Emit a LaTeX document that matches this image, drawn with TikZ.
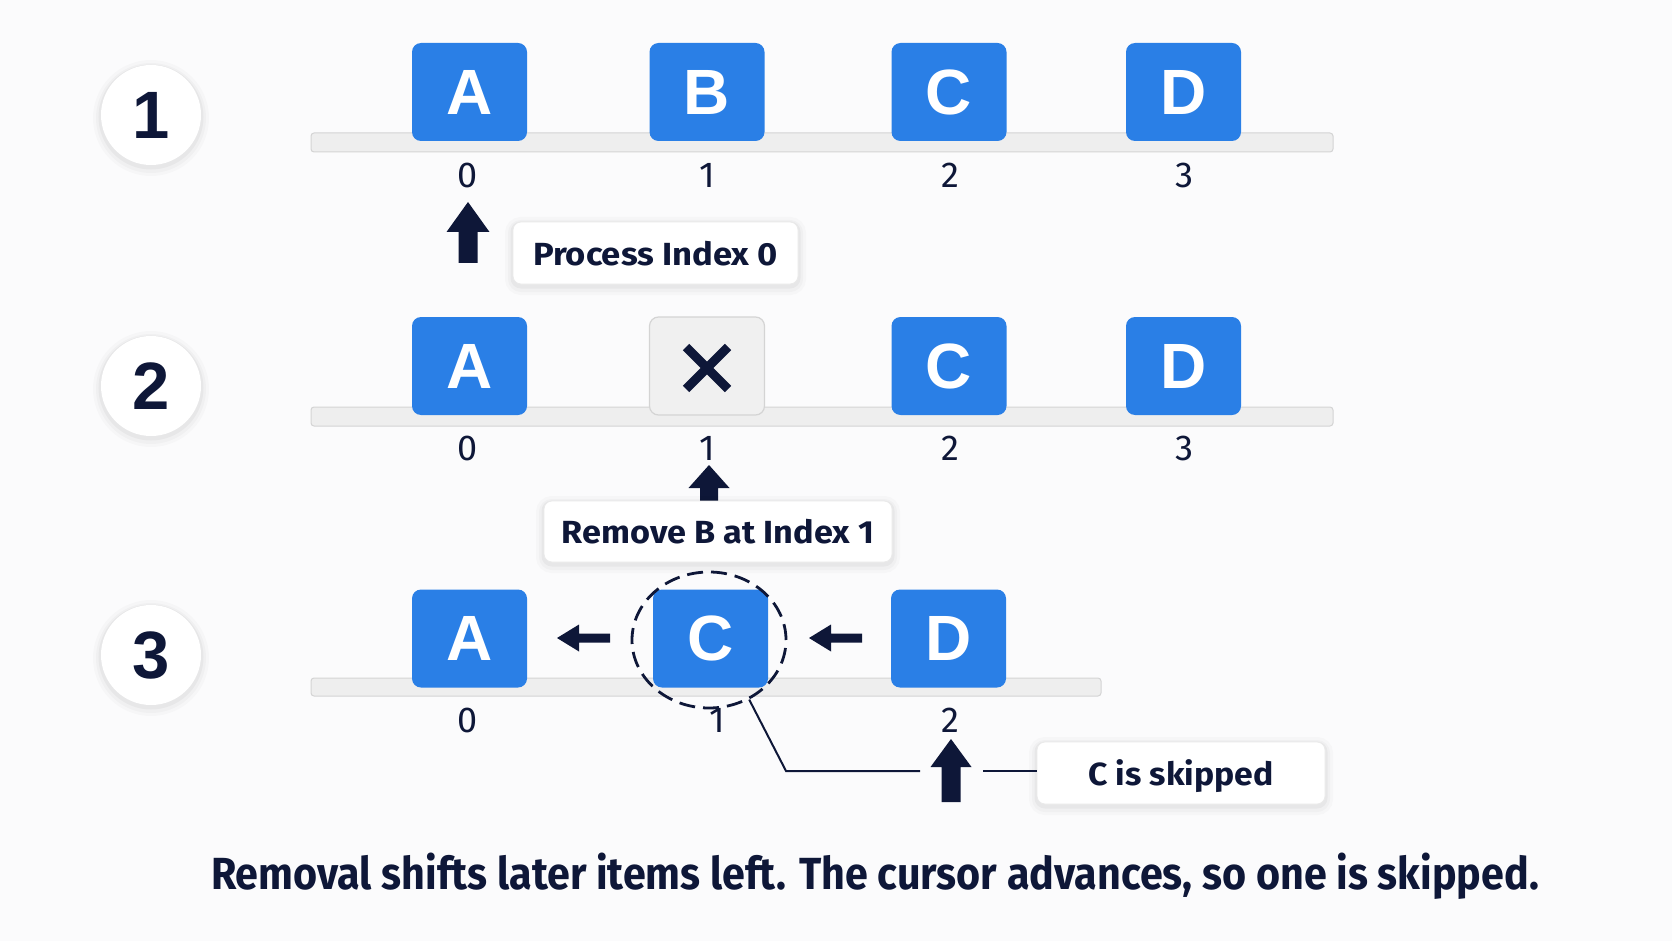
\documentclass[tikz,border=0pt]{standalone}
\usepackage{fontspec}
\setmainfont{Liberation Sans}
\newfontfamily\fira{Fira Sans}
\usetikzlibrary{shapes.geometric}
\definecolor{boxblue}{RGB}{42,127,230}
\definecolor{navy}{RGB}{14,23,56}
\definecolor{trackfill}{RGB}{238,238,238}
\definecolor{trackline}{RGB}{212,212,212}
\definecolor{bg}{RGB}{251,251,252}
\definecolor{xfill}{RGB}{240,240,240}
\definecolor{xline}{RGB}{212,212,212}
\definecolor{lblline}{RGB}{234,234,234}
\newcommand{\fitw}[2]{\resizebox{#1}{\height}{#2}}
% x, tip y, bottom y, head width, head height, shaft width
\newcommand{\upblock}[6]{%
  \fill[navy] (#1-#6/2,#3) -- (#1-#6/2,#2+#5) -- (#1-#4/2,#2+#5) -- (#1,#2)
    -- (#1+#4/2,#2+#5) -- (#1+#6/2,#2+#5) -- (#1+#6/2,#3) -- cycle;}
% tip x, tail x, y, head width, head length, shaft width
\newcommand{\leftblock}[6]{%
  \fill[navy] (#2,#3-#6/2) -- (#1+#5,#3-#6/2) -- (#1+#5,#3-#4/2) -- (#1,#3)
    -- (#1+#5,#3+#4/2) -- (#1+#5,#3+#6/2) -- (#2,#3+#6/2) -- cycle;}
\begin{document}
\begin{tikzpicture}[x=1pt,y=-1pt,
  softshadow/.style={
    preaction={draw=black, draw opacity=0.018, line width=16pt, transform canvas={yshift=-3pt}},
    preaction={draw=black, draw opacity=0.025, line width=10pt, transform canvas={yshift=-3pt}},
    preaction={draw=black, draw opacity=0.035, line width=5pt, transform canvas={yshift=-2pt}}},
  item/.style={fill=boxblue, rounded corners=9pt, minimum width=115pt, minimum height=98pt, inner sep=0pt, text=white, font=\fontsize{64}{64}\selectfont\bfseries},
  gone/.style={fill=xfill, draw=xline, line width=1.2pt, rounded corners=9pt, minimum width=115pt, minimum height=98pt, inner sep=0pt},
  track/.style={fill=trackfill, draw=trackline, line width=1pt, rounded corners=3pt},
  stepc/.style={circle, fill=white, minimum size=100pt, inner sep=0pt, text=navy, font=\fontsize{67}{67}\selectfont\bfseries, softshadow},
  idx/.style={inner sep=0pt, text=navy, font=\fira\fontsize{36}{36}\selectfont},
  lbl/.style={fill=white, draw=lblline, line width=0.8pt, rounded corners=8pt, inner sep=0pt, text depth=0pt, text=navy, softshadow},
  leader/.style={draw=navy, line width=2pt},
  ring/.style={ellipse, draw=navy, line width=2.8pt, dash pattern=on 16pt off 8pt, minimum width=154pt, minimum height=136pt, inner sep=0pt}
]
\useasboundingbox (0,0) rectangle (1672,941);
\fill[bg] (0,0) rectangle (1672,941);

% step circles
\node[stepc] (s1) at (151,115) {1};
\node[stepc] (s2) at (151,386) {2};
\node[stepc] (s3) at (151,655) {3};

% ---------- row 1 ----------
\draw[track] (311,133) rectangle (1333,152);
\node[item] (a1) at (469.5,92) {A};
\node[item] (b1) at (707,92) {B};
\node[item] (c1) at (949,92) {C};
\node[item] (d1) at (1183.5,92) {D};
\node[idx] (i10) at (468,175) {0};
\node[idx] (i11) at (707,175) {1};
\node[idx] (i12) at (950,175) {2};
\node[idx] (i13) at (1184,175) {3};
\upblock{468}{202}{263}{43}{30}{19}
\node[lbl, minimum width=285pt, minimum height=62pt] (l1) at (655.5,253)
  {\fitw{245pt}{\fira\bfseries\fontsize{32}{32}\selectfont Process Index 0}};

% ---------- row 2 ----------
\draw[track] (311,407) rectangle (1333,426);
\node[item] (a2) at (469.5,366) {A};
\node[gone] (b2) at (707,366) {};
\draw[navy, line width=9pt] (686,347) -- (728,389) (686,389) -- (728,347);
\node[item] (c2) at (949,366) {C};
\node[item] (d2) at (1183.5,366) {D};
\node[idx] (i20) at (468,448) {0};
\node[idx] (i21) at (707,448) {1};
\node[idx] (i22) at (950,448) {2};
\node[idx] (i23) at (1184,448) {3};
\upblock{709}{465}{501}{41}{23}{18}
\node[lbl, minimum width=348pt, minimum height=61pt] (l2) at (718,531.5)
  {\fitw{312pt}{\fira\bfseries\fontsize{32}{32}\selectfont Remove B at Index 1}};

% ---------- row 3 ----------
\draw[track] (311,678) rectangle (1101,696);
\node[item] (a3) at (469.5,638.5) {A};
\node[item] (c3) at (710.5,638.5) {C};
\node[item] (d3) at (948.5,638.5) {D};
\node[ring] (r3) at (709,640) {};
\leftblock{557}{610}{638}{27}{22}{9}
\leftblock{809}{862}{638}{27}{22}{9}
\node[idx] (i30) at (468,720) {0};
\node[idx] (i31) at (717,720) {1};
\node[idx] (i32) at (950,720) {2};
\node[lbl, minimum width=288pt, minimum height=62pt] (l3) at (1181,773)
  {\fitw{185pt}{\fira\bfseries\fontsize{32}{32}\selectfont C is skipped}};
\coordinate (k1) at (786,771);
\coordinate (k2) at (920,771);
\coordinate (k3) at (983,771);
\draw[leader] (r3.-56) -- (k1) -- (k2);
\draw[leader] (k3) -- (k3 -| l3.west);
\upblock{951}{739}{802}{41}{28}{19}

% caption
\node[anchor=base, inner sep=0pt, text=navy] (cap) at (875,889)
  {\fitw{1328pt}{\fira\bfseries\fontsize{45}{45}\selectfont Removal shifts later items left. The cursor advances, so one is skipped.}};
\end{tikzpicture}
\end{document}
